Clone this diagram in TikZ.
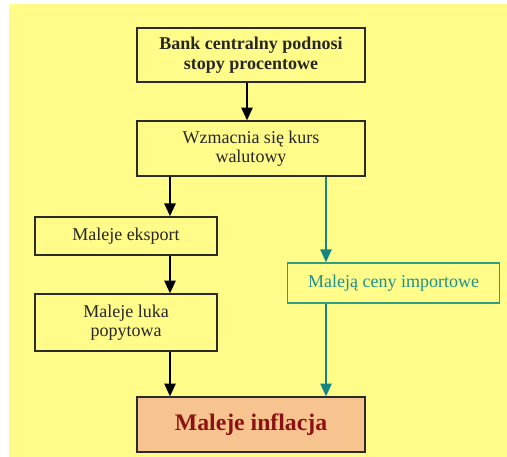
\documentclass[tikz,border=0pt]{standalone}
\usepackage{fontspec}
\setmainfont{Liberation Serif}
\usetikzlibrary{arrows.meta}
\definecolor{bgyellow}{HTML}{FFFC8A}
\definecolor{boxline}{HTML}{2B2B2B}
\definecolor{tealtext}{HTML}{1E9090}
\definecolor{tealline}{HTML}{2E9E82}
\definecolor{tealarrow}{HTML}{138585}
\definecolor{peach}{HTML}{F7C48F}
\definecolor{darkred}{HTML}{8B1212}
\tikzset{
    stepbox/.style={draw=boxline, line width=1.3pt, align=center, inner sep=0pt,
        text=black!85, font=\fontsize{13.5}{14.6}\selectfont},
    arr/.style={-{Triangle[length=9.5pt,width=8.5pt]}, line width=1.1pt, black},
    tealarr/.style={-{Triangle[length=9.5pt,width=8.5pt]}, line width=1pt, tealarrow}
}
\begin{document}
\begin{tikzpicture}[x=0.75pt,y=-0.75pt]
        \useasboundingbox (0,0) rectangle (507,457);
        \fill[bgyellow] (9,4) rectangle (507,457);
        \coordinate (lcol) at (170,0);
        \coordinate (rcol) at (326,0);

        \node[stepbox, minimum width=171pt, minimum height=40.5pt] (bank) at (251,55)
            {\bfseries Bank centralny podnosi\\\bfseries stopy procentowe};
        \node[stepbox, minimum width=171pt, minimum height=41pt] (kurs) at (251,148.5)
            {Wzmacnia się kurs\\walutowy};
        \node[stepbox, minimum width=136.5pt, minimum height=28.5pt] (eksport) at (126,236)
            {Maleje eksport};
        \node[stepbox, minimum width=136.5pt, minimum height=42.5pt] (luka) at (126,322.5)
            {Maleje luka\\popytowa};
        \node[stepbox, draw=tealline, text=tealtext, minimum width=159pt, minimum height=30pt] (import) at (393.5,283)
            {Maleją ceny importowe};
        \node[stepbox, fill=peach, text=darkred, minimum width=171pt, minimum height=41pt,
            font=\fontsize{17.8}{19}\selectfont\bfseries] (inflacja) at (251,424.5)
            {Maleje inflacja};

        \draw[arr] ([xshift=-3pt]bank.south) -- ([xshift=-3pt]kurs.north);
        \draw[arr] (kurs.south -| lcol) -- (eksport.north -| lcol);
        \draw[arr] (eksport.south -| lcol) -- (luka.north -| lcol);
        \draw[arr] (luka.south -| lcol) -- (inflacja.north -| lcol);
        \draw[tealarr] (kurs.south -| rcol) -- (import.north -| rcol);
        \draw[tealarr] (import.south -| rcol) -- (inflacja.north -| rcol);
    \end{tikzpicture}
\end{document}
